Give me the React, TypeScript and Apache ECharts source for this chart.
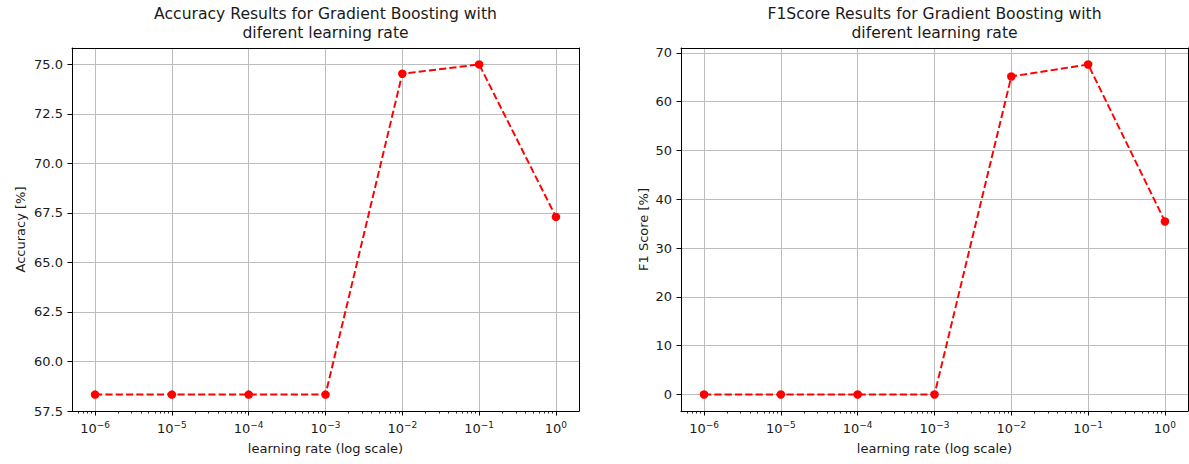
import React, { useEffect, useRef } from "react";
import * as echarts from "echarts";

// ---- data ----
const learningRates = [1e-6, 1e-5, 1e-4, 1e-3, 1e-2, 1e-1, 1];
const accuracy = [58.33, 58.33, 58.33, 58.33, 74.53, 75.0, 67.3];
const f1Score = [0, 0, 0, 0, 65.15, 67.6, 35.45];

// ---- tick labels ----
const xMajorExponents = [-6, -5, -4, -3, -2, -1, 0];
const minorFactors = [2, 3, 4, 5, 6, 7, 8, 9];
const minorDecades = [-7, -6, -5, -4, -3, -2, -1, 0];
const accuracyTicks = [57.5, 60, 62.5, 65, 67.5, 70, 72.5, 75];
const f1Ticks = [0, 10, 20, 30, 40, 50, 60, 70];

const titles = [
  "Accuracy Results for Gradient Boosting with\ndiferent learning rate",
  "F1Score Results for Gradient Boosting with\ndiferent learning rate",
];
const yNames = ["Accuracy [%]", "F1 Score [%]"];
const xName = "learning rate (log scale)";

const FONT = "DejaVu Sans";
const X_MIN = -6.3;
const X_MAX = 0.3;

const grids = [
  { left: 72, right: 610, top: 48, bottom: 53 },
  { left: 681, right: 1, top: 48, bottom: 53 },
];

const minorTicks: number[] = [];
minorDecades.forEach((d) =>
  minorFactors.forEach((k) => {
    const v = d + Math.log10(k);
    if (v > X_MIN && v < X_MAX) minorTicks.push(v);
  })
);

function supLabel(v: number) {
  const e = Math.round(v);
  return "10{sup|" + (e < 0 ? "\u2212" : "") + Math.abs(e) + "}";
}

export default function App() {
  const ref = useRef<HTMLDivElement>(null);
  useEffect(() => {
    if (!ref.current) return;
    const chart = echarts.init(ref.current, null, { renderer: "svg" });

    const xAxes: any[] = [];
    const yAxes: any[] = [];
    const series: any[] = [];
    const yConf = [
      { min: 57.5, max: 75.83, ticks: accuracyTicks, fmt: (v: number) => v.toFixed(1), gap: 45, data: accuracy },
      { min: -3.38, max: 70.98, ticks: f1Ticks, fmt: (v: number) => String(Math.round(v)), gap: 31, data: f1Score },
    ];

    grids.forEach((g, gi) => {
      const xBase = xAxes.length;
      const yBase = yAxes.length;
      xAxes.push({
        type: "value",
        gridIndex: gi,
        position: "bottom",
        min: X_MIN,
        max: X_MAX,
        minInterval: 1,
        maxInterval: 1,
        name: xName,
        nameLocation: "middle",
        nameGap: 31,
        nameTextStyle: { fontFamily: FONT, fontSize: 13, color: "#1a1a1a" },
        axisLine: { show: true, onZero: false, lineStyle: { color: "#000", width: 1 } },
        axisTick: { show: true, length: 4.5, customValues: xMajorExponents, lineStyle: { color: "#000", width: 1 } },
        axisLabel: {
          customValues: xMajorExponents,
          formatter: supLabel,
          margin: 9,
          fontFamily: FONT,
          fontSize: 13,
          color: "#1a1a1a",
          lineHeight: 16,
          rich: {
            sup: { fontFamily: FONT, fontSize: 9, lineHeight: 10, verticalAlign: "top", color: "#1a1a1a" },
          },
        },
        splitLine: { show: true, lineStyle: { color: "#bdbdbd", width: 1 } },
      });
      xAxes.push({
        type: "value",
        gridIndex: gi,
        position: "bottom",
        min: X_MIN,
        max: X_MAX,
        axisLine: { show: false, onZero: false },
        axisTick: { show: true, length: 2.6, customValues: minorTicks, lineStyle: { color: "#000", width: 0.8 } },
        axisLabel: { show: false },
        splitLine: { show: false },
      });
      xAxes.push({
        type: "value",
        gridIndex: gi,
        position: "top",
        min: X_MIN,
        max: X_MAX,
        axisLine: { show: true, onZero: false, lineStyle: { color: "#000", width: 1 } },
        axisTick: { show: false },
        axisLabel: { show: false },
        splitLine: { show: false },
      });
      const yc = yConf[gi];
      yAxes.push({
        type: "value",
        gridIndex: gi,
        position: "left",
        min: yc.min,
        max: yc.max,
        minInterval: gi === 0 ? 2.5 : 10,
        maxInterval: gi === 0 ? 2.5 : 10,
        name: yNames[gi],
        nameLocation: "middle",
        nameGap: yc.gap,
        nameTextStyle: { fontFamily: FONT, fontSize: 13, color: "#1a1a1a" },
        axisLine: { show: true, onZero: false, lineStyle: { color: "#000", width: 1 } },
        axisTick: { show: true, length: 4.5, customValues: yc.ticks, lineStyle: { color: "#000", width: 1 } },
        axisLabel: {
          customValues: yc.ticks,
          formatter: yc.fmt,
          margin: 9,
          fontFamily: FONT,
          fontSize: 13,
          color: "#1a1a1a",
        },
        splitLine: { show: true, lineStyle: { color: "#bdbdbd", width: 1 } },
      });
      yAxes.push({
        type: "value",
        gridIndex: gi,
        position: "right",
        min: yc.min,
        max: yc.max,
        axisLine: { show: true, onZero: false, lineStyle: { color: "#000", width: 1 } },
        axisTick: { show: false },
        axisLabel: { show: false },
        splitLine: { show: false },
      });
      series.push({
        type: "line",
        xAxisIndex: xBase,
        yAxisIndex: yBase,
        data: learningRates.map((lr, i) => [Math.log10(lr), yc.data[i]]),
        symbol: "circle",
        symbolSize: 8.5,
        itemStyle: { color: "#ff0000" },
        lineStyle: { color: "#ff0000", width: 1.95, type: [7.2, 3.1] },
        z: 5,
      });
    });

    chart.setOption({
      animation: false,
      backgroundColor: "#ffffff",
      grid: grids.map((g) => ({ ...g, show: false })),
      xAxis: xAxes,
      yAxis: yAxes,
      series,
      graphic: grids.map((g, gi) => ({
        type: "text",
        x: (g.left + (1189 - g.right)) / 2,
        y: 5,
        style: {
          text: titles[gi],
          fontFamily: FONT,
          fontSize: 15.6,
          lineHeight: 18.5,
          fill: "#1a1a1a",
          textAlign: "center",
          textVerticalAlign: "top",
        },
      })),
    });
    return () => chart.dispose();
  }, []);
  return (
    <div
      ref={ref}
      style={{ position: "fixed", left: 0, top: 0, width: 1189, height: 464, background: "#fff" }}
    />
  );
}
